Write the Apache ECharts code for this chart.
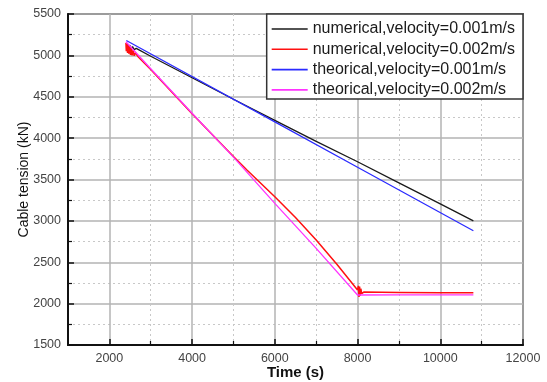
<!DOCTYPE html>
<html>
<head>
<meta charset="utf-8">
<script src="https://cdn.jsdelivr.net/npm/echarts@6/dist/echarts.min.js"></script>
<style>
html,body{margin:0;padding:0;background:#fff;}
#c{width:547px;height:382px;}
</style>
</head>
<body>
<div id="c"></div>
<script>
// ---- data ----
var legendNames = [
  'numerical,velocity=0.001m/s',
  'numerical,velocity=0.002m/s',
  'theorical,velocity=0.001m/s',
  'theorical,velocity=0.002m/s'
];
var xMajorTicks = [2000, 4000, 6000, 8000, 10000, 12000];
var xMinorTicks = [3000, 5000, 7000, 9000, 11000];
var yTicks = [1500, 2000, 2500, 3000, 3500, 4000, 4500, 5000, 5500];

// numerical, v = 0.001 m/s  [time (s), tension (kN)]
var numSlow = [
  [2430, 5140], [2445, 5090], [2460, 5135], [2480, 5085], [2500, 5120], [2530, 5080],
  [2560, 5105], [2600, 5070], [2650, 5085],
  [3000, 4990], [4000, 4730], [5000, 4470], [6000, 4215], [7000, 3960],
  [8000, 3715], [9000, 3460], [10000, 3205], [10800, 3000]
];
// numerical, v = 0.002 m/s
var numFast = [
  [2400, 5150], [2410, 5050], [2425, 5140], [2440, 5030], [2455, 5130], [2470, 5020],
  [2490, 5110], [2510, 5005], [2530, 5090], [2550, 5000], [2575, 5060], [2600, 4995],
  [2630, 5030], [2700, 4980],
  [3000, 4830], [4000, 4295], [4520, 4025], [5000, 3778], [5326, 3615], [6000, 3292],
  [6500, 3040], [7000, 2770], [7500, 2475], [8000, 2165],
  [8020, 2215], [8035, 2080], [8050, 2205], [8065, 2095], [8080, 2180], [8100, 2120],
  [8150, 2140], [9000, 2135], [10000, 2130], [10800, 2132]
];
// theoretical, v = 0.001 m/s
var theoSlow = [
  [2410, 5180], [6000, 4196], [8000, 3648], [10800, 2880]
];
// theoretical, v = 0.002 m/s
var theoFast = [
  [2400, 5165], [3000, 4838], [4000, 4300], [5000, 3770], [6000, 3212],
  [7000, 2668], [8000, 2104], [9000, 2106], [10000, 2106], [10800, 2106]
];

var colors = ['#1a1a1a', '#ff1010', '#2b2bff', '#ff33ff'];
var seriesData = [numSlow, numFast, theoSlow, theoFast];

var chart = echarts.init(document.getElementById('c'), null, {renderer: 'canvas'});
var font = 'Liberation Sans, Arial, sans-serif';
function plain(v) { return String(v); }

var series = seriesData.map(function (d, i) {
  return {
    name: legendNames[i],
    type: 'line',
    xAxisIndex: 0,
    yAxisIndex: 0,
    data: d,
    showSymbol: false,
    symbol: 'none',
    lineStyle: {color: colors[i], width: i === 1 ? 1.5 : 1.3},
    itemStyle: {color: colors[i]},
    z: 3 + i
  };
});

var option = {
  animation: false,
  backgroundColor: '#fff',
  textStyle: {fontFamily: font},
  grid: {
    left: 68, right: 24, top: 14, bottom: 37,
    outerBoundsMode: 'none', containLabel: false,
    show: true, borderColor: '#222', borderWidth: 1.5, backgroundColor: '#fff'
  },
  legend: {
    orient: 'vertical',
    right: 24, top: 14,
    backgroundColor: '#fff',
    borderColor: '#333', borderWidth: 1.5,
    padding: [7, 8, 1, 5],
    itemGap: 4.3,
    itemWidth: 36, itemHeight: 1.6,
    icon: 'rect',
    textStyle: {fontSize: 16, color: '#1a1a1a', fontFamily: font, lineHeight: 14},
    data: legendNames
  },
  xAxis: [
    {
      type: 'value', min: 1000, max: 12000, position: 'bottom',
      name: 'Time (s)', nameLocation: 'middle', nameGap: 20, nameMoveOverlap: false,
      nameTextStyle: {fontSize: 15, fontWeight: 'bold', color: '#111', fontFamily: font},
      axisLine: {show: true, onZero: false, lineStyle: {color: '#111', width: 2}},
      axisTick: {show: true, inside: true, length: 6, customValues: xMajorTicks, lineStyle: {color: '#111', width: 1.5}},
      axisLabel: {show: true, customValues: xMajorTicks, fontSize: 12.5, color: '#444', margin: 7, fontFamily: font, formatter: plain},
      splitLine: {show: true, lineStyle: {color: '#b3b3b3', width: 1.5, type: 'solid'}}
    },
    {
      type: 'value', min: 1000, max: 12000, position: 'bottom',
      axisLine: {show: false},
      axisTick: {show: true, inside: true, length: 4, customValues: xMinorTicks, lineStyle: {color: '#111', width: 1.2}},
      axisLabel: {show: false},
      splitLine: {show: true, lineStyle: {color: '#c8c8c8', width: 1, type: [2, 3]}}
    }
  ],
  yAxis: {
    type: 'value', min: yTicks[0], max: yTicks[yTicks.length - 1], interval: 500,
    name: 'Cable tension (kN)', nameLocation: 'middle', nameGap: 37, nameMoveOverlap: false,
    nameTextStyle: {fontSize: 14, color: '#111', fontFamily: font},
    axisLine: {show: true, onZero: false, lineStyle: {color: '#111', width: 2}},
    axisTick: {show: true, inside: true, length: 6, lineStyle: {color: '#111', width: 1.5}},
    minorTick: {show: true, splitNumber: 2, length: 4, lineStyle: {color: '#111', width: 1.2}},
    axisLabel: {fontSize: 12.5, color: '#444', margin: 7, fontFamily: font, formatter: plain},
    splitLine: {show: true, lineStyle: {color: '#b3b3b3', width: 1.5}},
    minorSplitLine: {show: true, lineStyle: {color: '#c8c8c8', width: 1, type: [2, 3]}}
  },
  series: series
};
chart.setOption(option);
</script>
</body>
</html>
